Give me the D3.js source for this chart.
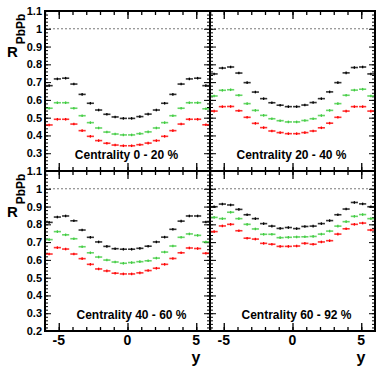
<!DOCTYPE html>
<html><head><meta charset="utf-8">
<script src="https://cdn.jsdelivr.net/npm/d3@7"></script>
<style>body{margin:0;background:#fff}svg{display:block}text{font-family:"Liberation Sans",Arial,sans-serif;font-weight:bold}</style>
</head><body><svg id="c" width="376" height="367"></svg>
<script>
// rapidity bin centres
const yBins = [-5.7,-5.1,-4.5,-3.9,-3.3,-2.7,-2.1,-1.5,-0.9,-0.3,0.3,0.9,1.5,2.1,2.7,3.3,3.9,4.5,5.1,5.7];
const xTicks = [-5,0,5];
const yTickLabels = [0.2,0.3,0.4,0.5,0.6,0.7,0.8,0.9,1,1.1];
const centralityLabels = ["Centrality 0 - 20 %","Centrality 20 - 40 %","Centrality 40 - 60 %","Centrality 60 - 92 %"];
// series values, one array per colour per centrality class
const black0_20 = [0.680,0.718,0.722,0.689,0.631,0.581,0.543,0.519,0.504,0.496,0.496,0.506,0.520,0.543,0.581,0.631,0.689,0.718,0.722,0.680];
const green0_20 = [0.553,0.584,0.584,0.553,0.511,0.472,0.442,0.419,0.408,0.403,0.403,0.410,0.420,0.442,0.472,0.511,0.553,0.584,0.584,0.550];
const red0_20   = [0.459,0.491,0.491,0.464,0.427,0.395,0.371,0.356,0.346,0.342,0.342,0.348,0.357,0.371,0.395,0.427,0.464,0.491,0.491,0.460];
const black20_40 = [0.746,0.779,0.785,0.751,0.697,0.644,0.607,0.584,0.570,0.562,0.562,0.571,0.585,0.607,0.645,0.697,0.752,0.782,0.785,0.746];
const green20_40 = [0.622,0.654,0.657,0.626,0.579,0.541,0.513,0.494,0.483,0.476,0.476,0.484,0.494,0.512,0.541,0.579,0.626,0.655,0.660,0.622];
const red20_40   = [0.537,0.562,0.563,0.539,0.502,0.468,0.444,0.425,0.416,0.410,0.410,0.416,0.425,0.443,0.469,0.502,0.537,0.562,0.562,0.537];
const black40_60 = [0.811,0.841,0.847,0.820,0.768,0.727,0.701,0.676,0.663,0.660,0.660,0.665,0.677,0.701,0.728,0.772,0.818,0.847,0.847,0.813];
const green40_60 = [0.714,0.759,0.741,0.719,0.674,0.640,0.616,0.599,0.588,0.581,0.585,0.590,0.595,0.610,0.644,0.678,0.727,0.746,0.738,0.701];
const red40_60   = [0.633,0.669,0.661,0.633,0.607,0.575,0.549,0.538,0.525,0.521,0.521,0.527,0.540,0.553,0.575,0.608,0.640,0.667,0.664,0.637];
const black60_92 = [0.899,0.914,0.909,0.884,0.854,0.832,0.804,0.790,0.777,0.782,0.776,0.788,0.790,0.804,0.821,0.854,0.886,0.923,0.915,0.899];
const green60_92 = [0.839,0.832,0.868,0.832,0.800,0.774,0.744,0.744,0.725,0.727,0.729,0.730,0.732,0.745,0.762,0.790,0.815,0.845,0.855,0.832];
const red60_92   = [0.759,0.791,0.800,0.764,0.722,0.717,0.693,0.688,0.676,0.676,0.678,0.693,0.688,0.701,0.708,0.745,0.775,0.800,0.807,0.768];
const seriesColors = ["#000000","#3fcc3f","#ff0000"];

const panelSeries = [
  [black0_20, green0_20, red0_20],
  [black20_40, green20_40, red20_40],
  [black40_60, green40_60, red40_60],
  [black60_92, green60_92, red60_92]
];

const svg = d3.select("#c");
const X0 = 45, XM = 210, X1 = 375, Y0 = 11, YM = 171, Y1 = 331;
const panelsGeo = [
  {x0:X0,x1:XM,y0:Y0,y1:YM,col:0,row:0},
  {x0:XM,x1:X1,y0:Y0,y1:YM,col:1,row:0},
  {x0:X0,x1:XM,y0:YM,y1:Y1,col:0,row:1},
  {x0:XM,x1:X1,y0:YM,y1:Y1,col:1,row:1}
];

panelsGeo.forEach((p,i)=>{
  const xs = d3.scaleLinear().domain([-6,6]).range([p.x0,p.x1]);
  const ys = d3.scaleLinear().domain([0.2,1.1]).range([p.y1,p.y0]);
  const g = svg.append("g");

  // dotted line at 1
  g.append("line").attr("x1",p.x0).attr("x2",p.x1).attr("y1",ys(1)).attr("y2",ys(1))
    .attr("stroke","#777").attr("stroke-width",1).attr("stroke-dasharray","2,2");

  // y ticks (left & right, inside)
  const yMinor = d3.range(0.2,1.1001,0.02);
  const yMajor = yTickLabels;
  [[p.x0,1],[p.x1,-1]].forEach(([xe,dir])=>{
    const ax = g.append("g").attr("transform",`translate(${xe},0)`);
    const mk = () => (dir>0?d3.axisRight(ys):d3.axisLeft(ys));
    ax.append("g").call(mk().tickValues(yMinor).tickSize(3).tickFormat(""));
    ax.append("g").call(mk().tickValues(yMajor).tickSize(6).tickFormat(""));
    ax.selectAll(".domain").remove();
    ax.selectAll("line").attr("stroke","#000").attr("stroke-width",1);
  });
  // x ticks (top & bottom, inside)
  const xMinor = d3.range(-6,6.001,1);
  [[p.y0,1],[p.y1,-1]].forEach(([ye,dir])=>{
    const ax = g.append("g").attr("transform",`translate(0,${ye})`);
    const mk = () => (dir>0?d3.axisBottom(xs):d3.axisTop(xs));
    ax.append("g").call(mk().tickValues(xMinor).tickSize(4).tickFormat(""));
    ax.append("g").call(mk().tickValues(xTicks).tickSize(8).tickFormat(""));
    ax.selectAll(".domain").remove();
    ax.selectAll("line").attr("stroke","#000").attr("stroke-width",1.3);
  });

  // y tick labels on left column
  if(p.col===0){
    const labs = p.row===0 ? yTickLabels.filter(v=>v>0.25) : yTickLabels;
    g.selectAll("text.yl").data(labs).enter().append("text")
      .attr("x",42).attr("y",d=>ys(d)+4).attr("text-anchor","end")
      .attr("font-size",11).text(d=>d3.format("")(d));
  }
  // x tick labels on bottom row
  if(p.row===1){
    g.selectAll("text.xl").data(xTicks).enter().append("text")
      .attr("x",d=>xs(d)).attr("y",345).attr("text-anchor","middle")
      .attr("font-size",14).text(d=>d<0?"-"+Math.abs(d):d);
    g.append("text").attr("x",p.x1-14).attr("y",362.5).attr("text-anchor","middle")
      .attr("font-size",16).text("y");
  }

  // data
  panelSeries[i].forEach((vals,k)=>{
    const c = seriesColors[k];
    const sg = g.append("g");
    yBins.forEach((b,j)=>{
      const cx = xs(b), cy = ys(vals[j]);
      sg.append("line").attr("x1",xs(b-0.26)).attr("x2",xs(b+0.26)).attr("y1",cy).attr("y2",cy)
        .attr("stroke",c).attr("stroke-width",1.6).attr("opacity",0.8);
      sg.append("line").attr("x1",cx).attr("x2",cx).attr("y1",cy-1.3).attr("y2",cy+1.3)
        .attr("stroke",c).attr("stroke-width",1.3);
    });
  });

  // label
  g.append("text").attr("x",(p.x0+p.x1)/2+ (p.row===1?4:-1)).attr("y",p.y1-12)
    .attr("text-anchor","middle").attr("font-size",12).text(centralityLabels[i]);
});

// frame lines
const fr = svg.append("g").attr("stroke","#000").attr("stroke-width",2).attr("fill","none");
fr.append("rect").attr("x",X0).attr("y",Y0).attr("width",X1-X0).attr("height",Y1-Y0);
fr.append("line").attr("x1",XM).attr("x2",XM).attr("y1",Y0).attr("y2",Y1);
fr.append("line").attr("x1",X0).attr("x2",X1).attr("y1",YM).attr("y2",YM);

// y-axis titles
[Y0, YM].forEach(yb=>{
  const t = svg.append("g");
  t.append("text").attr("x",7).attr("y",yb+46).attr("font-size",15).text("R");
  t.append("text").attr("transform",`translate(25,${yb+18}) rotate(-90)`)
    .attr("font-size",12).attr("text-anchor","middle").text("PbPb");
});
</script></body></html>
